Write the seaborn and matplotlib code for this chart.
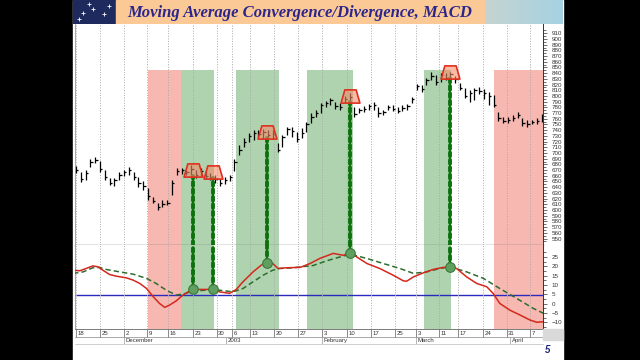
import numpy as np
import matplotlib
matplotlib.use("Agg")
import matplotlib.pyplot as plt
from matplotlib.path import Path
from matplotlib.patches import Rectangle
from matplotlib.colors import to_rgb
import seaborn as sns

sns.set_style("white")
plt.rcParams["font.family"] = ["Liberation Sans", "DejaVu Sans"]

# daily price bars, index = trading day from 18 Nov 2002
bar_lo = [665, 649, 653, 675, 682, 667, 653, 644, 642, 653, 660, 661, 652, 640, 635, 618,
          612, 600, 605, 608, 626, 661, 664, 661, 661, 657, 660, 655, 653, 648, 642, 645,
          650, 668, 697, 710, 720, 723, 727, 725, 723, 724, 702, 710, 732, 728, 719, 727,
          737, 753, 763, 771, 780, 784, 778, 775, 787, 791, 763, 770, 772, 775, 775, 764,
          767, 775, 774, 770, 774, 775, 788, 810, 807, 819, 828, 819, 824, 828, 828, 822,
          810, 796, 789, 793, 803, 795, 784, 780, 757, 752, 752, 756, 761, 747, 745, 750,
          751, 754]
bar_hi = [678, 667, 670, 690, 693, 686, 670, 656, 657, 667, 670, 675, 666, 658, 650, 638,
          622, 612, 617, 618, 653, 673, 673, 670, 679, 670, 674, 668, 665, 661, 655, 658,
          662, 690, 714, 726, 735, 740, 740, 742, 740, 740, 718, 732, 746, 745, 737, 743,
          754, 770, 775, 788, 791, 796, 789, 788, 800, 805, 781, 779, 782, 786, 790, 780,
          776, 784, 784, 780, 784, 786, 798, 821, 820, 832, 842, 836, 840, 840, 842, 835,
          822, 814, 810, 814, 815, 812, 807, 802, 772, 763, 763, 766, 772, 761, 758, 758,
          761, 768]
bar_cl = [670, 655, 665, 685, 688, 672, 658, 648, 652, 662, 666, 670, 658, 648, 642, 625,
          615, 605, 610, 613, 648, 668, 670, 667, 672, 662, 668, 660, 658, 655, 648, 652,
          658, 685, 705, 720, 730, 735, 733, 736, 731, 734, 706, 728, 742, 738, 724, 735,
          750, 764, 770, 785, 788, 793, 782, 780, 795, 798, 768, 775, 778, 782, 785, 770,
          772, 780, 778, 773, 779, 782, 795, 818, 812, 828, 835, 825, 836, 832, 838, 830,
          814, 800, 806, 810, 808, 805, 800, 785, 762, 756, 758, 762, 766, 752, 750, 754,
          756, 764]

macd_x = [-0.6, 0.8, 2.1, 3.5, 4.6, 5.6, 7.0, 8.4, 10.5, 11.9, 13.3, 14.7, 16.0, 17.4,
          18.5, 19.5, 20.9, 22.3, 24.2, 25.8, 28.5, 29.9, 32.0, 33.4, 34.8, 36.9, 38.6,
          39.8, 41.0, 42.1, 43.8, 46.7, 48.8, 50.8, 53.6, 55.7, 57.1, 58.5, 60.6, 63.3,
          66.1, 68.2, 68.9, 70.3, 72.4, 74.4, 76.5, 77.9, 79.3, 81.4, 83.5, 85.6, 86.9,
          88.3, 90.4, 92.5, 94.6, 96.0, 97.4]
macd_y = [18.0, 17.7, 18.9, 20.3, 19.8, 18.0, 15.7, 14.8, 13.9, 12.7, 10.9, 8.2, 4.1, 0.2,
          -1.9, -0.7, 1.6, 4.7, 7.7, 7.7, 7.7, 6.4, 5.6, 7.7, 11.8, 17.1, 20.7,
          22.1, 21.6, 18.9, 19.3, 19.5, 21.6, 24.3, 27.0, 26.0, 27.3, 25.1, 21.6, 18.9,
          15.3, 12.3, 12.1, 14.4, 16.6, 18.4, 19.5, 19.8, 18.9, 14.4, 10.9, 9.1, 5.6,
          0.2, -3.4, -6.0, -8.7, -9.9, -9.6]
signal_x = [-0.6, 1.5, 3.5, 4.9, 6.3, 9.1, 11.9, 14.7, 16.7, 18.8, 20.9, 23.0, 24.2, 27.1,
            29.9, 32.7, 34.8, 36.9, 39.0, 41.0, 42.4, 45.2, 49.4, 52.2, 55.0, 57.1, 60.6,
            64.0, 67.5, 70.3, 73.1, 75.8, 77.9, 81.4, 84.9, 88.3, 91.8, 95.3, 97.4]
signal_y = [16.3, 17.1, 19.3, 19.5, 18.4, 17.1, 15.9, 13.6, 10.9, 7.3, 4.7, 5.6, 6.8, 7.3,
            7.3, 6.4, 8.2, 11.8, 15.3, 18.0, 18.9, 19.3, 20.5, 23.0, 25.1, 26.6, 24.3,
            21.6, 18.9, 16.3, 17.1, 18.9, 19.8, 17.1, 13.6, 8.2, 2.9, -2.5, -5.1]

hit_x = [24.3, 28.5, 39.8, 57.1, 78.0]
hit_price = [670, 667, 736, 800, 842]
hit_macd = [7.7, 7.7, 22.1, 27.3, 19.8]

red_zones = [(15.0, 21.8), (87.1, 97.3)]
green_zones = [(21.8, 28.8), (33.3, 42.3), (48.1, 57.7), (72.5, 78.1)]
zone_top = 845
blue_level = 4.5

tick_x = [0, 5.1, 10, 14.9, 19.2, 24.3, 29.3, 32.6, 36.3, 41.3, 46.3, 51.3, 56.4, 61.5,
          66.5, 70.8, 75.6, 79.5, 84.7, 89.7, 94.6]
tick_lab = ["18", "25", "2", "9", "16", "23", "30", "6", "13", "20", "27", "3", "10", "17",
            "25", "3", "11", "17", "24", "31", "7"]
month_x = [10, 31.3, 51.3, 70.8, 90.4]
month_lab = ["December", "2003", "February", "March", "April"]

W, H = 640, 360
fig = plt.figure(figsize=(6.4, 3.6), dpi=100, facecolor="black")


def box(x0, y0, x1, y1):
    return [x0 / W, 1 - y1 / H, (x1 - x0) / W, (y1 - y0) / H]


fig.add_artist(Rectangle((73 / W, 0), 490 / W, 1, transform=fig.transFigure,
                         color="white", zorder=0))
fig.add_artist(Rectangle((543 / W, 1 - 340 / H), 20 / W, 11 / H, transform=fig.transFigure,
                         color="#d9d9d9", zorder=1))

# title banner
ban = fig.add_axes(box(73, 0, 563, 24))
g = np.linspace(0, 1, 100)[:, None]
img = (np.array(to_rgb("#f3d6b8")) * (1 - g) + np.array(to_rgb("#a6d2e2")) * g)[None]
ban.imshow(img, extent=(300, 490, 0, 1), aspect="auto")
ban.add_patch(Rectangle((0, 0), 43, 1, color="#1e2a5e"))
ban.add_patch(Rectangle((43, 0), 368, 1, color="#fbc995"))
ban.scatter([10, 20, 31, 16, 36, 6], [0.45, 0.62, 0.4, 0.85, 0.75, 0.2],
            marker="+", s=8, color="white", lw=0.6)
ban.text(227, 0.47, "Moving Average Convergence/Divergence, MACD", ha="center", va="center",
         fontsize=12, fontweight="bold", fontstyle="italic", color="#2c268c",
         family=["Liberation Serif", "DejaVu Serif"])
ban.set_xlim(0, 490)
ban.set_ylim(0, 1)
ban.axis("off")

ax1 = fig.add_axes(box(75, 24, 543, 245))
ax2 = fig.add_axes(box(75, 245, 543, 329), sharex=ax1)
band = fig.add_axes(box(75, 329, 543, 344), sharex=ax1)

p_lo, p_hi = 538.6, 926.3
m_lo, m_hi = -13.5, 31.5
ax1.set_xlim(-0.2, 97.3)
ax1.set_ylim(p_lo, p_hi)
ax2.set_ylim(m_lo, m_hi)

zfrac = (zone_top - p_lo) / (p_hi - p_lo)
for a, b in red_zones:
    ax1.axvspan(a, b, ymax=zfrac, color="#f8b8b2", lw=0, zorder=1)
    ax2.axvspan(a, b, color="#f8b8b2", lw=0, zorder=1)
for a, b in green_zones:
    ax1.axvspan(a, b, ymax=zfrac, color="#afd3af", lw=0, zorder=1)
    ax2.axvspan(a, b, color="#afd3af", lw=0, zorder=1)

for ax in (ax1, ax2):
    ax.set_xticks(tick_x)
    ax.tick_params(axis="x", length=0, labelbottom=False)
    ax.set_axisbelow(False)
    ax.grid(axis="x", ls=":", color="#a8a8a8", lw=0.7)
    ax.grid(axis="y", visible=False)
    ax.yaxis.tick_right()
    ax.tick_params(axis="y", which="both", direction="out", labelsize=4.5, pad=3,
                   width=0.5, color="#333333", labelcolor="#333333")
    ax.tick_params(axis="y", which="major", length=3)
    ax.tick_params(axis="y", which="minor", length=1.8)
    ax.spines["left"].set_color("#9a9a9a")
    ax.spines["left"].set_linewidth(0.6)
    ax.spines["right"].set_color("#333333")
    ax.spines["right"].set_linewidth(0.7)
    ax.spines["top"].set_visible(False)
ax1.spines["bottom"].set_color("#6f6f6f")
ax1.spines["bottom"].set_linewidth(1.0)
ax2.spines["bottom"].set_color("#7a7a7a")
ax2.spines["bottom"].set_linewidth(0.7)

ax1.set_yticks(np.arange(550, 911, 10))
ax1.set_yticks(np.arange(545, 921, 10), minor=True)
ax2.set_yticks(np.arange(-10, 26, 5))
ax2.set_yticks(np.arange(-12.5, 31, 5), minor=True)

# price bars
days = np.arange(len(bar_cl))
ax1.vlines(days, bar_lo, bar_hi, color="black", lw=0.9, zorder=3)
ax1.hlines(bar_cl, days, days + 0.5, color="black", lw=0.9, zorder=3)

# MACD and signal
ax2.axhline(blue_level, color="#2a2ac0", lw=1.0, zorder=2)
sns.lineplot(x=signal_x, y=signal_y, ax=ax2, color="#2f6d2f", lw=1.1, sort=False,
             linestyle=(0, (3.5, 2)), zorder=3)
sns.lineplot(x=macd_x, y=macd_y, ax=ax2, color="#d4281c", lw=1.1, sort=False, zorder=4)

# crossover connectors
bead = dict(color="#0d720d", lw=2.8, ls=(0, (1.0, 0.9)), dash_capstyle="round", zorder=5)
for x, p, m in zip(hit_x, hit_price, hit_macd):
    ax1.plot([x, x], [p_lo, p - 10], clip_on=False, **bead)
    ax2.plot([x, x], [m, m_hi], **bead)

trap = Path([(-1, -0.7), (1, -0.7), (0.6, 0.7), (-0.6, 0.7), (-1, -0.7)],
            [Path.MOVETO, Path.LINETO, Path.LINETO, Path.LINETO, Path.CLOSEPOLY])
ax1.scatter(hit_x, hit_price, marker=trap, s=185, facecolor=(0.96, 0.55, 0.42, 0.6),
            edgecolor="#e0301e", lw=1.2, zorder=6)
sns.scatterplot(x=hit_x, y=hit_macd, ax=ax2, s=48, color="#5f9f5f", edgecolor="#3a7a3a",
                linewidth=0.8, zorder=6)

ax1.set_xlabel("")
ax2.set_xlabel("")
ax1.set_ylabel("")
ax2.set_ylabel("")

# date band under the chart
band.set_ylim(0, 2)
band.axis("off")
band.axhline(1, color="#9a9a9a", lw=0.6)
band.axhline(0, color="#c8c8c8", lw=0.6, clip_on=False)
band.vlines(tick_x, 1, 2, color="#777777", lw=0.6)
band.vlines(month_x, 0, 1, color="#aaaaaa", lw=0.6)
for t, lab in zip(tick_x, tick_lab):
    band.text(t + 0.35, 1.45, lab, ha="left", va="center", fontsize=4.3, color="#333333")
for t, lab in zip(month_x, month_lab):
    band.text(t + 0.35, 0.45, lab, ha="left", va="center", fontsize=4.3, color="#333333")
band.set_xlim(-0.2, 97.3)

fig.text(548 / W, 1 - 350 / H, "5", ha="center", va="center", fontsize=7,
         fontweight="bold", fontstyle="italic", color="#1f2a7a")

fig.savefig("out.png", dpi=100, facecolor="black")
